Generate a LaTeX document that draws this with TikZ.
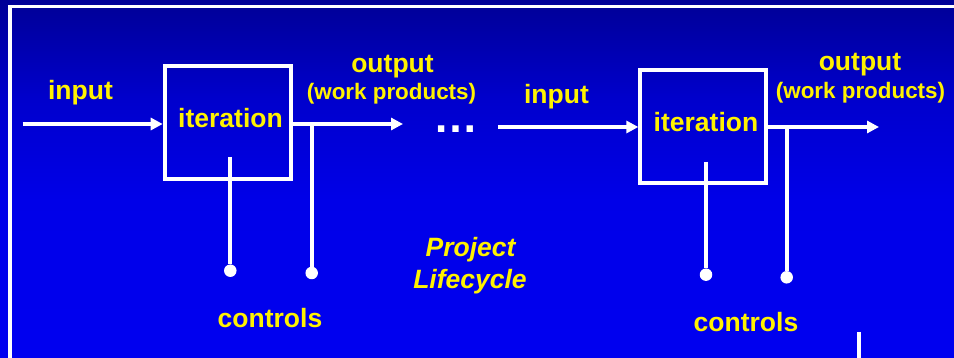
\documentclass[tikz,border=0pt]{standalone}
\usepackage{fontspec}
\setmainfont{Liberation Sans}
\usetikzlibrary{positioning,arrows.meta}

\definecolor{bgtop}{RGB}{0,0,150}
\definecolor{bgupper}{RGB}{0,0,205}
\definecolor{bgmid}{RGB}{0,0,232}
\definecolor{bgbot}{RGB}{0,0,240}
\pgfdeclareverticalshading{bgfade}{100bp}{color(0bp)=(bgbot); color(25bp)=(bgbot); color(47bp)=(bgmid); color(61bp)=(bgupper); color(75bp)=(bgtop); color(100bp)=(bgtop)}

\begin{document}
\begin{tikzpicture}[x=1pt, y=-1pt,
    wire/.style = {white, line width=4pt},
    flow/.style = {wire, -{Triangle[length=12pt, width=12pt]}},
    itbox/.style = {draw=white, line width=4pt, minimum width=126pt, minimum height=112.5pt, inner sep=0pt},
    word/.style = {text=yellow, font=\fontsize{26.5}{30}\selectfont\bfseries, inner sep=0pt, anchor=base},
    small/.style = {word, font=\fontsize{22.4}{26}\selectfont\bfseries},
    title/.style = {word, font=\fontsize{26.5}{30}\selectfont\bfseries\itshape},
    tap/.style = {circle, fill=white, minimum size=12.5pt, inner sep=0pt}]

  \clip (0,0) rectangle (954,358);
  \shade[shading=bgfade] (0,0) rectangle (954,358);
  \draw[white, line width=3.5pt] (10,370) -- (10,6.5) -- (970,6.5);

  \node[itbox] (it1) at (227.7,122.65) {};
  \node[itbox] (it2) at (703.35,126.3) {};

  \node[word] (itxt1) at (230.5,128) {iteration};
  \node[word] (itxt2) at (706,131.7) {iteration};

  \node[word] (in1) at (80.5,99.5) {input};
  \node[word] (in2) at (556.5,104) {input};
  \node[word] (out1) at (392.5,72.7) {output};
  \node[word] (out2) at (860,70.7) {output};
  \node[small] (wp1) at (391.5,100) {(work products)};
  \node[small] (wp2) at (860.5,99) {(work products)};
  \node[word] (ctl1) at (270,327) {controls};
  \node[word] (ctl2) at (746,331.7) {controls};

  \node[word, text=white, font=\fontsize{45}{50}\selectfont\bfseries, text height=7pt, text depth=0pt] (gap) at (456,133) {…};
  \node[title] (proj) at (470.5,256.7) {Project};
  \node[title] (life) at (470,288.3) {Lifecycle};

  \coordinate (s1) at (22.7,124);
  \coordinate (e1) at (403,124);
  \coordinate (b1) at (311.7,124);
  \coordinate (k1) at (230.3,157);
  \node[tap] (c1) at (230.3,270.7) {};
  \node[tap] (o1) at (311.7,273) {};

  \coordinate (s2) at (498,127);
  \coordinate (e2) at (879,127);
  \coordinate (b2) at (786.7,127);
  \coordinate (k2) at (706,161.7);
  \node[tap] (c2) at (706,274.7) {};
  \node[tap] (o2) at (786.7,277.3) {};

  \draw[flow] (s1) -- (s1 -| it1.west);
  \draw[flow] (s1 -| it1.east) -- (e1);
  \draw[wire] (k1) -- (c1);
  \draw[wire] (b1) -- (o1);

  \draw[flow] (s2) -- (s2 -| it2.west);
  \draw[flow] (s2 -| it2.east) -- (e2);
  \draw[wire] (k2) -- (c2);
  \draw[wire] (b2) -- (o2);

  \draw[wire] (858.5,332) -- (858.5,370);
\end{tikzpicture}
\end{document}
